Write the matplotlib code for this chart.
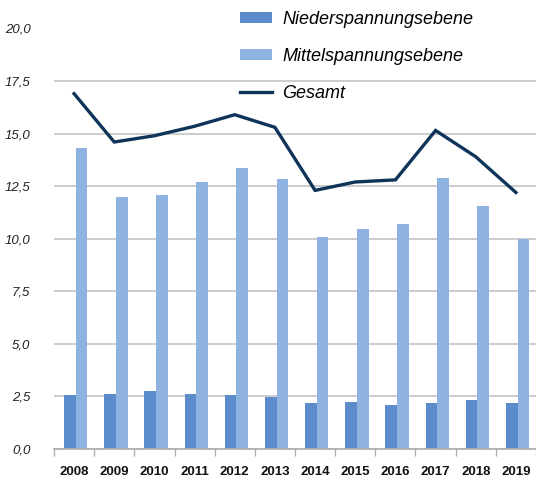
import matplotlib.pyplot as plt
import numpy as np

years = ['2008', '2009', '2010', '2011', '2012', '2013',
         '2014', '2015', '2016', '2017', '2018', '2019']
nieder = [2.55, 2.62, 2.77, 2.62, 2.55, 2.46, 2.17, 2.23, 2.08, 2.20, 2.33, 2.17]
mittel = [14.3, 12.0, 12.1, 12.7, 13.35, 12.85, 10.1, 10.45, 10.7, 12.9, 11.55, 10.0]
gesamt = [16.9, 14.6, 14.9, 15.35, 15.9, 15.3, 12.3, 12.7, 12.8, 15.15, 13.9, 12.2]

plt.rcParams['font.family'] = ['Liberation Sans', 'DejaVu Sans']

fig = plt.figure(figsize=(5.36, 4.84), dpi=100)
ax = fig.add_axes([54/536, 35/484, 482/536, 420.5/484])

x = np.arange(len(years))
w = 0.29
b1 = ax.bar(x - w/2 + 0.04, nieder, w, color='#5a8bca', label='Niederspannungsebene', zorder=2)
b2 = ax.bar(x + w/2 + 0.04, mittel, w, color='#8fb3e0', label='Mittelspannungsebene', zorder=2)
l1, = ax.plot(x, gesamt, color='#0f3459', lw=2.4, label='Gesamt', zorder=3,
              solid_joinstyle='miter')

ax.set_xlim(-0.5, len(years) - 0.5)
ax.set_ylim(0, 20)
yt = np.arange(0, 20.1, 2.5)
ax.set_yticks(yt)
ax.set_yticklabels([f'{v:.1f}'.replace('.', ',') for v in yt],
                   fontsize=9.5, style='italic', color='#222222')
ax.grid(axis='y', color='#c8c8c8', lw=1.3, zorder=0)
ax.tick_params(axis='y', length=0, pad=17)

ax.set_xticks(x)
ax.set_xticklabels(years, fontsize=9.5, fontweight='bold', color='#111111')
ax.set_xticks(np.arange(-0.5, len(years), 1), minor=True)
ax.tick_params(axis='x', which='major', length=0, pad=12)
ax.tick_params(axis='x', which='minor', length=5, color='#b0b0b0', width=1)

for s in ['top', 'right', 'left']:
    ax.spines[s].set_visible(False)
ax.spines['bottom'].set_color('#b0b0b0')
ax.spines['bottom'].set_linewidth(1.3)

fig.legend([b1, b2, l1], ['Niederspannungsebene', 'Mittelspannungsebene', 'Gesamt'],
           loc='upper left', bbox_to_anchor=(240/536, 1 - 11/484), frameon=False,
           prop={'style': 'italic', 'size': 13}, labelspacing=1.1,
           handlelength=1.75, handleheight=0.6, handletextpad=0.6, borderpad=0,
           borderaxespad=0)

fig.savefig('out.png', dpi=100)
